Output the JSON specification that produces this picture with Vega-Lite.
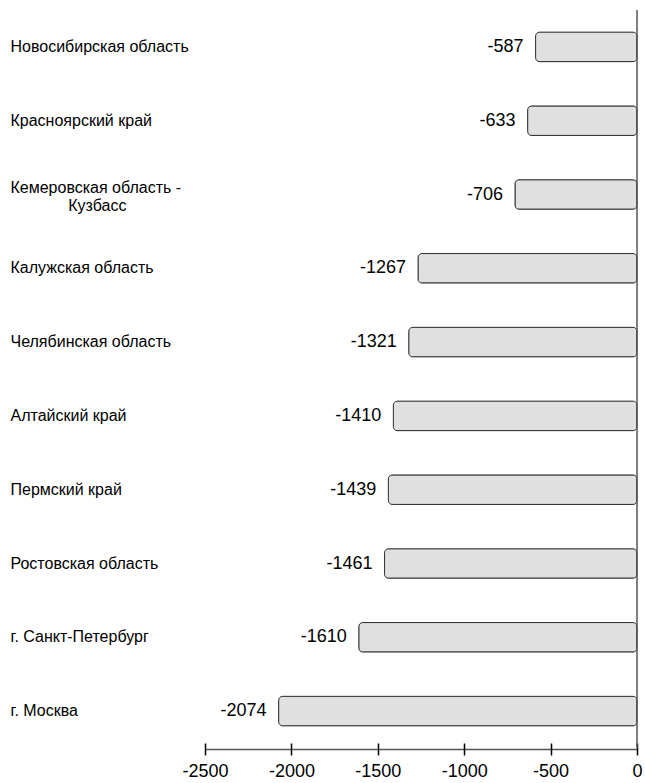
{
  "$schema": "https://vega.github.io/schema/vega-lite/v6.json",
  "autosize": {"type": "none"},
  "padding": {"left": 205, "top": 10, "right": 8, "bottom": 35},
  "width": 432,
  "height": 738,
  "config": {
    "view": {"stroke": null},
    "font": "Liberation Sans",
    "axis": {"labelFont": "Liberation Sans", "labelColor": "#000000"}
  },
  "resolve": {"scale": {"x": "independent"}, "axis": {"x": "independent"}},
  "layer": [
    {
      "data": {"values": [
        {"region": "Новосибирская область", "value": -587},
        {"region": "Красноярский край", "value": -633},
        {"region": "Кемеровская область - Кузбасс", "value": -706},
        {"region": "Калужская область", "value": -1267},
        {"region": "Челябинская область", "value": -1321},
        {"region": "Алтайский край", "value": -1410},
        {"region": "Пермский край", "value": -1439},
        {"region": "Ростовская область", "value": -1461},
        {"region": "г. Санкт-Петербург", "value": -1610},
        {"region": "г. Москва", "value": -2074}
      ]},
      "encoding": {
        "y": {
          "field": "region", "type": "nominal", "sort": "-x",
          "scale": {"paddingInner": 0.6, "paddingOuter": 0.3},
          "axis": {
            "title": null, "domain": false, "ticks": false, "tickSize": 0,
            "labelAlign": "left", "labelPadding": 195, "labelFontSize": 16,
            "labelLimit": 300, "labelLineHeight": 18, "labelBaseline": "middle",
            "labelOffset": {"condition": {"test": "datum.value == 'Кемеровская область - Кузбасс'", "value": -7}, "value": 0},
            "labelExpr": "datum.value == 'Кемеровская область - Кузбасс' ? ['Кемеровская область -', '\u200b\u00a0\u00a0\u00a0\u00a0\u00a0\u00a0\u00a0\u00a0\u00a0\u00a0\u00a0\u00a0\u00a0Кузбасс'] : datum.value"
          }
        },
        "x": {
          "field": "value", "type": "quantitative",
          "scale": {"domain": [-2500, 0], "nice": false, "zero": false},
          "axis": {
            "title": null, "grid": false, "ticks": false, "tickSize": 0,
            "domain": true, "domainColor": "#555555", "domainWidth": 1.5,
            "offset": 1, "values": [-2500, -2000, -1500, -1000, -500, 0],
            "labelExpr": "toString(datum.value)", "labelFontSize": 18,
            "labelPadding": 13, "labelFlush": false, "labelOverlap": false
          }
        }
      },
      "layer": [
        {
          "mark": {"type": "bar", "fill": "#e0e0e0", "stroke": "#333333", "strokeWidth": 1, "cornerRadius": 4}
        },
        {
          "mark": {"type": "text", "align": "right", "baseline": "middle", "dx": -12, "fontSize": 18, "font": "Liberation Sans", "color": "#000000"},
          "encoding": {"text": {"field": "value", "type": "nominal"}}
        }
      ]
    },
    {
      "data": {"values": [{"zero": 0}]},
      "mark": {"type": "rule", "color": "#555555", "strokeWidth": 1.5},
      "encoding": {
        "x": {
          "field": "zero", "type": "quantitative",
          "scale": {"domain": [-2500, 0], "nice": false, "zero": false},
          "axis": {
            "orient": "bottom",
            "title": null, "grid": false, "domain": false, "labels": false,
            "ticks": true, "tickSize": 12, "tickColor": "#000000", "tickWidth": 1.5,
            "offset": -5, "values": [-2500, -2000, -1500, -1000, -500, 0]
          }
        }
      }
    }
  ]
}
